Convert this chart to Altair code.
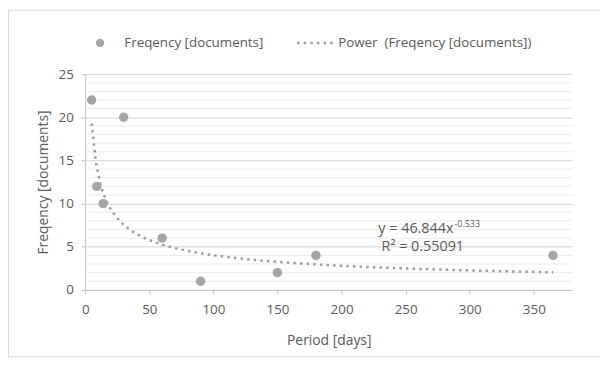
import altair as alt
import pandas as pd

# ---- data ----
period_days = [5, 9, 14, 30, 60, 90, 150, 180, 365]
frequency_docs = [22, 12, 10, 20, 6, 1, 2, 4, 4]
x_ticks = [0, 50, 100, 150, 200, 250, 300, 350]
y_ticks = [0, 5, 10, 15, 20, 25]
y_minor = [1, 2, 3, 4, 6, 7, 8, 9, 11, 12, 13, 14, 16, 17, 18, 19, 21, 22, 23, 24]
series_names = ["Freqency [documents]", "Power\u00a0 (Freqency [documents])"]
equation_text = "y = 46.844x"
exponent_text = "-0.533"
r2_text = "R² = 0.55091"
x_title = "Period [days]"
y_title = "Freqency [documents]"

# ---- styles ----
FONT = "Open Sans"
TXT = "#595959"
PT = "#a5a5a5"
LINE = "#9c9c9c"
FS = 13.5
DASH = [2.5, 4.2]

df = pd.DataFrame({"period": period_days, "freq": frequency_docs})

xs = alt.Scale(domain=[0, 380], nice=False, zero=False)
ys = alt.Scale(domain=[0, 25], nice=False)

x_axis = alt.Axis(values=x_ticks, title=x_title, grid=False,
                  domainColor="#bfbfbf", tickColor="#bfbfbf", tickSize=4,
                  labelPadding=9, titlePadding=18, labelFlush=False,
                  labelFont=FONT, labelFontSize=FS, labelColor=TXT,
                  titleFont=FONT, titleFontSize=FS + 0.5, titleColor=TXT,
                  titleFontWeight="normal")
y_axis = alt.Axis(values=y_ticks, title=y_title, grid=True, gridColor="#d0d0d0",
                  domainColor="#bfbfbf", tickColor="#bfbfbf", tickSize=4,
                  labelPadding=8, titlePadding=8,
                  labelFont=FONT, labelFontSize=FS, labelColor=TXT,
                  titleFont=FONT, titleFontSize=FS + 0.5, titleColor=TXT,
                  titleFontWeight="normal")

one = alt.Data(values=[{}])

border = alt.Chart(one).mark_rect(fillOpacity=0, stroke="#d9d9d9", strokeWidth=1).encode(
    x=alt.value(-77.5), x2=alt.value(530), y=alt.value(-64.5), y2=alt.value(285.5))

minor = alt.Chart(pd.DataFrame({"freq": y_minor})).mark_rule(
    color="#ebebeb", strokeWidth=1).encode(
    y=alt.Y("freq:Q", scale=ys, axis=y_axis))

trend = alt.Chart(df).transform_regression(
    "period", "freq", method="pow").mark_line(
    color=LINE, strokeWidth=2.5, strokeDash=DASH).encode(
    x=alt.X("period:Q", scale=xs, axis=x_axis),
    y=alt.Y("freq:Q", scale=ys, axis=y_axis))

points = alt.Chart(df).mark_point(filled=True, size=90, color=PT, opacity=1).encode(
    x=alt.X("period:Q", scale=xs, axis=x_axis),
    y=alt.Y("freq:Q", scale=ys, axis=y_axis))

eq = alt.Chart(one).mark_text(text=equation_text, font=FONT, fontSize=14.5, color=TXT,
                              align="right", baseline="middle").encode(
    x=alt.value(372), y=alt.value(157))
eq_exp = alt.Chart(one).mark_text(text=exponent_text, font=FONT, fontSize=9, color=TXT,
                                  align="left", baseline="middle").encode(
    x=alt.value(373), y=alt.value(151))
r2 = alt.Chart(one).mark_text(text=r2_text, font=FONT, fontSize=14.5, color=TXT,
                              align="center", baseline="middle").encode(
    x=alt.value(341), y=alt.value(175))

leg_pt = alt.Chart(one).mark_point(filled=True, size=70, color=PT, opacity=1).encode(
    x=alt.value(15), y=alt.value(-31.5))
leg_t1 = alt.Chart(one).mark_text(text=series_names[0], font=FONT, fontSize=FS, color=TXT,
                                  align="left", baseline="middle").encode(
    x=alt.value(39.5), y=alt.value(-31.5))
leg_ln = alt.Chart(one).mark_rule(color=LINE, strokeWidth=2.5, strokeDash=DASH).encode(
    x=alt.value(214), x2=alt.value(254), y=alt.value(-31.5))
leg_t2 = alt.Chart(one).mark_text(text=series_names[1], font=FONT, fontSize=FS, color=TXT,
                                  align="left", baseline="middle").encode(
    x=alt.value(255.5), y=alt.value(-31.5))

chart = alt.layer(border, minor, trend, points, eq, eq_exp, r2,
                  leg_pt, leg_t1, leg_ln, leg_t2).properties(
    width=492, height=218,
    autosize=alt.AutoSizeParams(type="none"),
    padding={"left": 78, "top": 65, "right": 28, "bottom": 68},
    background="white",
).configure_view(stroke=None)

chart.save("out.html", embed_options={"renderer": "svg", "actions": False})
